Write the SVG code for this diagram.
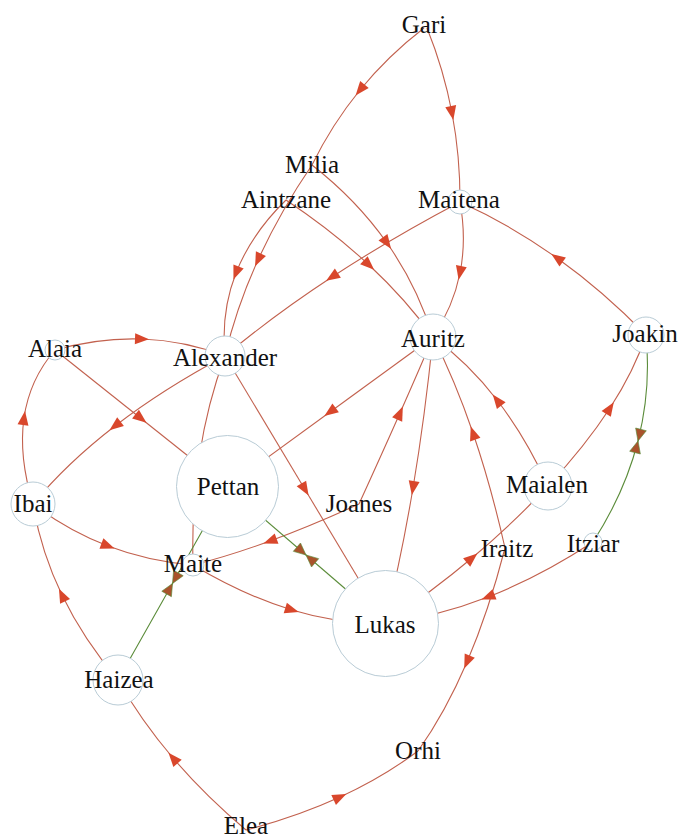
<svg xmlns="http://www.w3.org/2000/svg" width="680" height="839" viewBox="0 0 680 839">
<style>
.e{fill:none;stroke:#c2614e;stroke-width:1.1;marker-mid:url(#arr)}
.g{fill:none;stroke:#5b8c3a;stroke-width:1.1;marker-mid:url(#bow)}
.n circle{fill:#fff;stroke:#b9ccd6;stroke-width:1}
.n text{font-family:"Liberation Serif","Times New Roman",serif;font-size:25px;fill:#111;text-anchor:middle}
</style>
<defs>
<marker id="arr" markerUnits="userSpaceOnUse" orient="auto" markerWidth="16" markerHeight="14" viewBox="-8 -7 16 14" refX="0" refY="0" overflow="visible">
<path d="M-7,-5.5 L7,0 L-7,5.5 Z" fill="#d9472c"/>
</marker>
<marker id="bow" markerUnits="userSpaceOnUse" orient="auto" markerWidth="28" markerHeight="14" viewBox="-14 -7 28 14" refX="0" refY="0" overflow="visible">
<path d="M-12,-5.5 L0,0 L-12,5.5 Z M12,-5.5 L0,0 L12,5.5 Z" fill="#a9532c" stroke="#5b8c3a" stroke-width="0.6"/>
</marker>
</defs>
<rect width="680" height="839" fill="#fff"/>
<g id="connectors">
<path class="e" d="M424,28 Q388,55.75 360,90 Q332,124.25 312,165"/>
<path class="e" d="M312,165 Q279.75,212.25 258,260 Q236.25,307.75 225,356"/>
<path class="e" d="M286,200 Q251.25,234 236,273 Q220.75,312 225,356"/>
<path class="e" d="M427,28 Q443.75,69.5 452,113 Q460.25,156.5 460,202"/>
<path class="e" d="M460,202 Q466.75,239.25 460,273 Q453.25,306.75 433,337"/>
<path class="e" d="M460,202 Q390.75,238.5 332,277 Q273.25,315.5 225,356"/>
<path class="e" d="M312,165 Q356.75,200 387,243 Q417.25,286 433,337"/>
<path class="e" d="M286,200 Q332.25,230.75 369,265 Q405.75,299.25 433,337"/>
<path class="e" d="M646,335 Q603.5,291.25 557,258 Q510.5,224.75 460,202"/>
<path class="e" d="M55,350 Q99.5,337.5 142,339 Q184.5,340.5 225,356"/>
<path class="e" d="M55,350 L141,418.5 L227,487"/>
<path class="e" d="M225,356 Q163,389 115,426 Q67,463 33,504"/>
<path class="e" d="M33,504 Q18.5,456.5 24,418 Q29.5,379.5 55,350"/>
<path class="e" d="M225,356 Q207.5,403 199.5,455.25 Q191.5,507.5 193,565"/>
<path class="e" d="M33,504 Q68,530.75 108,546 Q148,561.25 193,565"/>
<path class="e" d="M359,504 Q311.5,525.75 270,541 Q228.5,556.25 193,565"/>
<path class="e" d="M193,565 Q244,595.5 292,610 Q340,624.5 385,623"/>
<path class="e" d="M225,356 L305,489.5 L385,623"/>
<path class="e" d="M433,337 L330,412 L227,487"/>
<path class="e" d="M359,504 Q381.5,454.75 400,413 Q418.5,371.25 433,337"/>
<path class="e" d="M433,337 Q425,416.5 413,488 Q401,559.5 385,623"/>
<path class="e" d="M505,548 Q491,485.75 473,433 Q455,380.25 433,337"/>
<path class="e" d="M505,548 Q488.75,611.25 467,662 Q445.25,712.75 418,751"/>
<path class="e" d="M548,486 Q525.75,437.25 497,400 Q468.25,362.75 433,337"/>
<path class="e" d="M548,486 Q585.5,445.75 610,408 Q634.5,370.25 646,335"/>
<path class="e" d="M385,623 Q431.25,592.25 472,558 Q512.75,523.75 548,486"/>
<path class="e" d="M593,542 Q540,576.75 488,597 Q436,617.25 385,623"/>
<path class="e" d="M246,830 Q205,795.5 173,758 Q141,720.5 118,680"/>
<path class="e" d="M246,830 Q297,816.75 340,797 Q383,777.25 418,751"/>
<path class="e" d="M118,680 Q83.25,639 62,595 Q40.75,551 33,504"/>
<path class="g" d="M118,680 L172.5,583.5 L227,487"/>
<path class="g" d="M227,487 L306,555 L385,623"/>
<path class="g" d="M646,335 Q651.25,389.25 638,441 Q624.75,492.75 593,542"/>
</g>
<g id="node-gari" class="n"><text x="424" y="33">Gari</text></g>
<g id="node-milia" class="n"><text x="312" y="173">Milia</text></g>
<g id="node-aintzane" class="n"><text x="286" y="208">Aintzane</text></g>
<g id="node-maitena" class="n"><circle cx="460" cy="202" r="12"/><text x="459" y="208">Maitena</text></g>
<g id="node-alaia" class="n"><circle cx="55" cy="350" r="10"/><text x="55" y="357">Alaia</text></g>
<g id="node-alexander" class="n"><circle cx="225" cy="356" r="20"/><text x="225" y="366">Alexander</text></g>
<g id="node-auritz" class="n"><circle cx="433" cy="337" r="23"/><text x="433" y="347">Auritz</text></g>
<g id="node-joakin" class="n"><circle cx="646" cy="335" r="18"/><text x="645" y="342">Joakin</text></g>
<g id="node-pettan" class="n"><circle cx="227.5" cy="486.5" r="51"/><text x="228" y="495">Pettan</text></g>
<g id="node-ibai" class="n"><circle cx="33" cy="504" r="22"/><text x="33" y="512">Ibai</text></g>
<g id="node-joanes" class="n"><text x="359" y="512">Joanes</text></g>
<g id="node-maialen" class="n"><circle cx="548" cy="486" r="24"/><text x="547" y="493">Maialen</text></g>
<g id="node-maite" class="n"><circle cx="193" cy="565" r="11"/><text x="193" y="572">Maite</text></g>
<g id="node-iraitz" class="n"><text x="507" y="557">Iraitz</text></g>
<g id="node-itziar" class="n"><circle cx="593" cy="542" r="9"/><text x="593" y="552">Itziar</text></g>
<g id="node-lukas" class="n"><circle cx="385.5" cy="623.5" r="53"/><text x="385" y="633">Lukas</text></g>
<g id="node-haizea" class="n"><circle cx="118" cy="680" r="25"/><text x="119" y="688">Haizea</text></g>
<g id="node-orhi" class="n"><text x="418" y="759">Orhi</text></g>
<g id="node-elea" class="n"><text x="246" y="834">Elea</text></g>
</svg>
